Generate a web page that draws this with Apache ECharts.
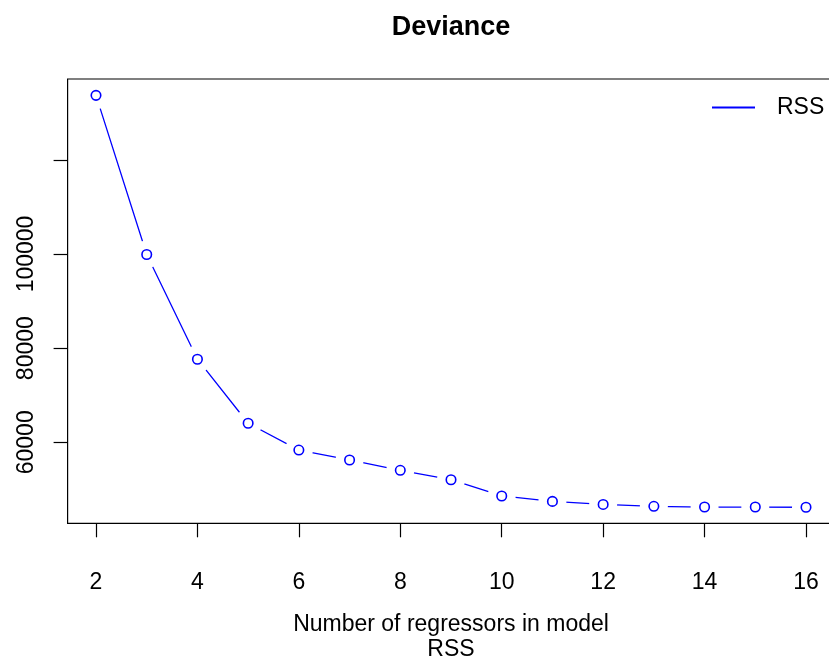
<!DOCTYPE html>
<html>
<head>
<meta charset="utf-8">
<script src="https://cdn.jsdelivr.net/npm/echarts@6/dist/echarts.min.js"></script>
<style>
  html, body { margin: 0; padding: 0; background: #fff; }
  #main { width: 829px; height: 664px; }
</style>
</head>
<body>
<div id="main"></div>
<script>
// data
var nRegressors = [2, 3, 4, 5, 6, 7, 8, 9, 10, 11, 12, 13, 14, 15, 16];
var rssValues = [133700, 99900, 77650, 64050, 58350, 56250, 54050, 52050, 48600, 47450, 46800, 46400, 46250, 46250, 46200];
var xTickValues = [2, 4, 6, 8, 10, 12, 14, 16];
var yTickValues = [60000, 80000, 100000, 120000];
var yLabelValues = [60000, 80000, 100000];

var points = nRegressors.map(function (x, i) { return [x, rssValues[i]]; });

var font = 'Liberation Sans, Arial, Helvetica, sans-serif';
var blue = '#0000ff';

var myChart = echarts.init(document.getElementById('main'));

var option = {
    animation: false,
    backgroundColor: '#fff',
    title: {
        text: 'Deviance',
        left: 446,
        top: 9,
        textAlign: 'center',
        textStyle: { fontFamily: font, fontSize: 27, fontWeight: 'bold', color: '#000' }
    },
    legend: {
        data: [{ name: 'RSS', icon: 'rect' }],
        left: 712,
        top: 96,
        padding: 0,
        itemWidth: 43,
        itemHeight: 2,
        selectedMode: false,
        textStyle: { fontFamily: font, fontSize: 23, color: '#000', padding: [0, 0, 0, 17] }
    },
    grid: {
        left: 67.6,
        top: 79,
        width: 766.8,
        height: 444.3,
        show: true,
        borderColor: '#000',
        borderWidth: 1.2,
        containLabel: false,
        outerBoundsMode: 'none'
    },
    xAxis: {
        type: 'value',
        min: 1.44,
        max: 16.56,
        name: 'Number of regressors in model\nRSS',
        nameLocation: 'middle',
        nameGap: 89,
        nameTextStyle: { fontFamily: font, fontSize: 23, color: '#000', lineHeight: 25 },
        axisLine: { show: false },
        splitLine: { show: false },
        axisTick: {
            show: true, length: 14, customValues: xTickValues,
            lineStyle: { color: '#000', width: 1.2 }
        },
        axisLabel: {
            customValues: xTickValues, margin: 48,
            fontFamily: font, fontSize: 23, color: '#000'
        }
    },
    yAxis: {
        type: 'value',
        min: 42793,
        max: 137175,
        axisLine: { show: false },
        splitLine: { show: false },
        axisTick: {
            show: true, length: 14, customValues: yTickValues,
            lineStyle: { color: '#000', width: 1.2 }
        },
        axisLabel: {
            customValues: yLabelValues, rotate: 90, margin: 29,
            fontFamily: font, fontSize: 23, color: '#000',
            formatter: function (v) { return String(v); }
        }
    },
    series: [
        {
            name: 'RSS',
            type: 'line',
            data: points,
            symbol: 'none',
            z: 1,
            itemStyle: { color: blue },
            lineStyle: { color: blue, width: 1.3 }
        },
        {
            // white disks give the gaps R leaves round each point
            name: 'gap',
            type: 'scatter',
            data: points,
            symbolSize: 28,
            silent: true,
            z: 2,
            itemStyle: { color: '#fff', opacity: 1 }
        },
        {
            name: 'points',
            type: 'scatter',
            data: points,
            symbol: 'circle',
            symbolSize: 9.5,
            z: 3,
            itemStyle: { color: '#fff', borderColor: blue, borderWidth: 1.6, opacity: 1 }
        }
    ]
};

myChart.setOption(option);
</script>
</body>
</html>
